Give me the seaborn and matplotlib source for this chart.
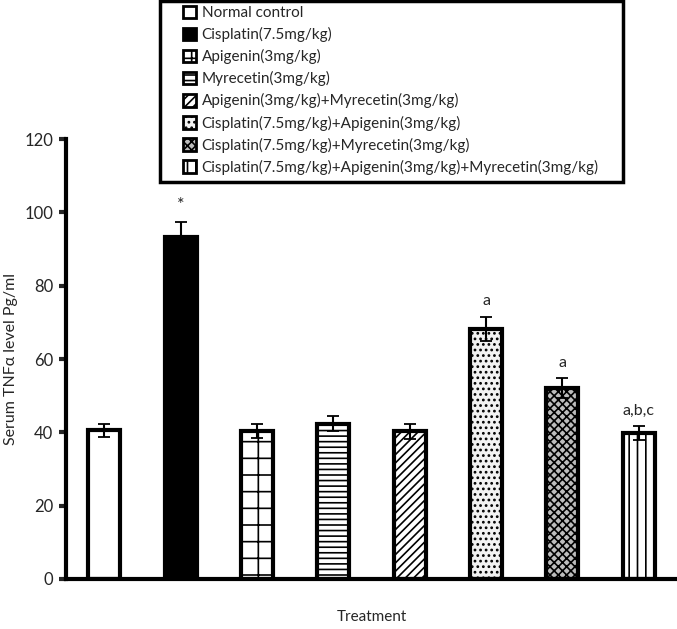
import numpy as np
import pandas as pd
import matplotlib
matplotlib.use('Agg')
import matplotlib.pyplot as plt
import seaborn as sns
from matplotlib.patches import Patch, Rectangle

# ==================== 数据 ====================
treatments = [
    'Normal control',
    'Cisplatin(7.5mg/kg)',
    'Apigenin(3mg/kg)',
    'Myrecetin(3mg/kg)',
    'Apigenin(3mg/kg)+Myrecetin(3mg/kg)',
    'Cisplatin(7.5mg/kg)+Apigenin(3mg/kg)',
    'Cisplatin(7.5mg/kg)+Myrecetin(3mg/kg)',
    'Cisplatin(7.5mg/kg)+Apigenin(3mg/kg)+Myrecetin(3mg/kg)',
]
tnf_mean = [40.5, 93.2, 40.4, 42.4, 40.3, 68.2, 52.1, 39.8]
tnf_err = [1.9, 4.2, 1.9, 2.0, 2.0, 3.3, 2.7, 1.9]
sig_labels = ['', '*', '', '', '', 'a', 'a', 'a,b,c']

# 填充样式
fills = ['white', 'black', 'white', 'white', 'white', '#f2f2f2', '#bdbdbd', 'white']
hatches = ['', '', '+', '---', '////', '...', 'xxxx', '||']

sns.set_theme(style="white")
plt.rcParams['font.family'] = ['Lato', 'DejaVu Sans']
plt.rcParams['hatch.linewidth'] = 1.2

df = pd.DataFrame({'Treatment': treatments, 'TNF': tnf_mean})

W, H = 677, 629
fig = plt.figure(figsize=(W / 100, H / 100), dpi=100)
ax = fig.add_axes([0.0975, 0.0795, 0.9025, 0.6995])

sns.barplot(data=df, x='Treatment', y='TNF', order=treatments, color='white',
            width=0.42, ax=ax, errorbar=None)

for bar, fc, h in zip(ax.patches, fills, hatches):
    bar.set_facecolor(fc)
    bar.set_edgecolor('black')
    bar.set_linewidth(3)
    bar.set_hatch(h)

ax.errorbar(np.arange(len(treatments)), tnf_mean, yerr=tnf_err, fmt='none',
            ecolor='black', elinewidth=1.5, capsize=4, capthick=1.3, zorder=5)

for i, (m, e, s) in enumerate(zip(tnf_mean, tnf_err, sig_labels)):
    if s:
        fs = 13 if s == '*' else 11.5
        ax.text(i, m + e + 2.3, s, ha='center', va='bottom', fontsize=fs)

ax.set_ylim(0, 120)
ax.set_xlim(-0.5, 7.5)
ax.set_yticks(range(0, 121, 20))
ax.set_xticks([])
ax.tick_params(axis='y', direction='out', length=5, width=3, labelsize=12, left=True, pad=4)
ax.set_xlabel('Treatment', fontsize=11, labelpad=22)
ax.set_ylabel('Serum TNFα level Pg/ml', fontsize=11.5, labelpad=5)
for side in ['top', 'right']:
    ax.spines[side].set_visible(False)
for side in ['left', 'bottom']:
    ax.spines[side].set_linewidth(3)
    ax.spines[side].set_color('black')

# 图例外框
fig.patches.append(Rectangle((160 / W, 1 - 182 / H), 463 / W, 181 / H,
                             transform=fig.transFigure, facecolor='white',
                             edgecolor='black', linewidth=2.5, zorder=10))

handles = [Patch(facecolor=fc, edgecolor='black', hatch=h, linewidth=2)
           for fc, h in zip(fills, hatches)]
leg = fig.legend(handles, treatments, loc='upper left',
                 bbox_to_anchor=(181 / W, 1 - 4 / H),
                 fontsize=11, frameon=False, handlelength=0.9,
                 handleheight=0.9, handletextpad=0.35, labelspacing=0.46,
                 borderpad=0.1, borderaxespad=0)
leg.set_zorder(11)

fig.savefig('out.png', dpi=100)
